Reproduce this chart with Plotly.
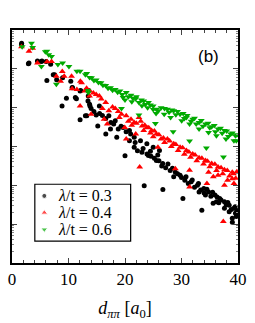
import plotly.graph_objects as go
import math

# lambda/t = 0.3 (black circles): distance d, log10 correlation
d_03 = [1.68, 1.7, 2.9, 3.0, 4.5, 5.16, 5.3, 6.05, 6.84, 6.17, 7.3, 7.56, 7.9, 8.96, 8.86, 9.63, 10.4, 10.64, 10.7,
        11.21, 11.4, 12.05, 12.15, 12.05, 12.99, 13.45, 13.73, 13.56, 13.5, 13.8, 15.46, 13.23, 14.9, 17.14, 18.27,
        19.66, 20.79, 21.63, 22.74, 23.87, 24.99, 26.1, 15.18, 16.6, 18.54, 20.79, 21.63, 24.15, 25.55, 26.67, 20.0,
        17.43, 23.4, 26.7, 28.91, 29.75, 28.62, 30.59, 31.71, 32.82, 33.95, 34.79, 35.92, 36.76, 37.6, 38.44, 39.28,
        39.55, 33.11, 34.24, 36.18, 37.6, 38.44, 30.25, 33.6, 35.6, 39.8, 39.0, 38.99,
        22.2, 23.0, 23.9, 24.6, 25.2, 26.0, 26.5, 27.2, 27.6, 28.0, 28.4, 29.3, 30.0, 30.8, 31.2, 31.9, 32.3, 33.0,
        33.4, 34.0, 34.5, 35.2, 35.5, 36.3, 36.6, 37.0, 37.9, 38.2, 38.8, 39.5, 39.8, 39.7,
        14.0, 14.5, 15.5, 16.0, 16.6, 17.5, 18.0, 18.8, 19.3, 20.2, 21.0, 21.8, 23.2, 24.5, 25.8]
c_03 = [-0.38, -0.34, -0.87, -0.85, -0.80, -0.81, -0.80, -0.81, -0.88, -1.30, -1.15, -1.15, -1.28, -1.23, -1.96,
        -1.76, -1.32, -1.49, -1.48, -1.74, -1.77, -1.57, -1.56, -2.31, -2.21, -1.83, -1.91, -1.56, -1.70, -1.96,
        -1.96, -2.21, -2.19, -2.21, -2.34, -2.51, -2.59, -2.76, -2.85, -2.93, -3.02, -3.10, -2.47, -2.68, -2.76,
        -2.85, -3.02, -3.23, -3.36, -3.44, -3.24, -2.55, -4.01, -4.11, -3.66, -3.74, -3.78, -3.87, -3.91, -4.00,
        -4.08, -4.17, -4.25, -4.34, -4.42, -4.51, -4.59, -4.72, -4.17, -4.25, -4.42, -4.59, -4.68, -4.34, -4.64,
        -4.46, -4.72, -4.95, -4.85,
        -3.11, -3.15, -3.19, -3.25, -3.30, -3.37, -3.50, -3.55, -3.45, -3.62, -3.56, -3.70, -3.80, -3.78, -3.95,
        -3.86, -4.05, -3.95, -4.12, -4.20, -4.10, -4.28, -4.18, -4.30, -4.45, -4.38, -4.50, -4.44, -4.62, -4.55,
        -4.65, -4.80,
        -2.02, -2.10, -2.15, -2.20, -2.28, -2.38, -2.42, -2.55, -2.48, -2.62, -2.68, -2.90, -3.05, -3.12, -3.22]

# lambda/t = 0.4 (red up-triangles)
d_04 = [1.68, 3.0, 3.65, 4.5, 6.2, 7.0, 7.85, 8.6, 8.9, 9.24, 10.54, 10.64, 11.48, 12.1, 12.32, 12.05, 12.89,
        13.73, 14.0, 13.78, 14.9, 15.46, 16.59, 17.14, 18.27, 19.38, 20.22, 21.06, 21.63, 22.47, 23.03, 23.87,
        24.71, 25.55, 26.39, 16.86, 19.95, 21.9, 23.31, 25.83, 22.6, 16.3, 20.22,
        27.51, 28.62, 29.75, 30.87, 31.98, 33.11, 34.24, 35.34, 36.47, 37.6, 38.99, 28.91, 31.43, 34.79, 36.47,
        38.15, 39.28, 31.43, 34.5, 37.4, 35.63, 37.6, 38.99,
        22.0, 22.8, 23.5, 24.2, 24.5, 25.2, 25.0, 26.0, 26.8, 27.0, 27.9, 28.2, 29.0, 29.4, 30.2, 30.5, 31.3, 31.6,
        32.4, 32.7, 33.6, 33.9, 34.6, 35.0, 35.9, 36.2, 37.0, 37.3, 38.1, 38.5, 39.2, 39.6, 39.8,
        17.8, 18.8, 19.0, 20.6, 21.2, 15.8, 16.0, 14.4, 13.2]
c_04 = [-0.43, -0.55, -0.47, -0.85, -0.82, -0.81, -1.19, -1.32, -1.07, -1.19, -1.19, -1.51, -1.53, -1.32, -1.36,
        -1.96, -1.57, -1.70, -2.17, -1.57, -1.66, -1.70, -1.87, -2.08, -2.02, -2.17, -2.21, -2.30, -2.38, -2.25,
        -2.47, -2.51, -2.59, -2.68, -2.81, -2.42, -2.51, -2.68, -2.59, -3.02, -3.53, -2.30, -2.81,
        -2.81, -2.93, -3.02, -3.10, -3.19, -3.29, -3.36, -3.44, -3.53, -3.60, -3.66, -3.57, -3.61, -3.66, -3.74,
        -3.87, -3.95, -4.04, -3.95, -4.93, -3.78, -4.00, -3.83,
        -2.40, -2.35, -2.45, -2.52, -2.65, -2.60, -2.75, -2.70, -2.78, -2.90, -2.86, -3.00, -2.95, -3.10, -3.03,
        -3.20, -3.14, -3.28, -3.22, -3.37, -3.30, -3.45, -3.38, -3.52, -3.46, -3.62, -3.55, -3.70, -3.62, -3.76,
        -3.70, -3.82, -3.65,
        -1.98, -2.10, -2.25, -2.35, -2.45, -1.78, -2.02, -1.62, -1.50]

# lambda/t = 0.6 (green down-triangles)
d_06 = [1.8, 3.45, 3.65, 5.9, 6.17, 6.5, 7.0, 5.2, 8.12, 8.96, 10.08, 7.85, 11.48, 12.05, 12.99, 13.73, 13.45,
        13.23, 14.07, 14.9, 15.75, 16.59, 17.43, 18.27, 19.11, 19.66, 20.22, 21.06, 21.9, 22.47, 23.31, 24.15,
        24.99, 25.55, 26.39, 13.5, 19.38, 22.47, 25.38,
        27.51, 28.62, 29.75, 30.87, 31.98, 33.11, 34.24, 35.34, 36.47, 37.6, 38.71, 39.55,
        26.94, 28.07, 30.03, 31.43, 33.11, 34.79, 36.18, 37.87, 39.28,
        28.52, 31.43, 34.4, 37.43,
        14.5, 15.3, 16.1, 17.0, 17.8, 18.7, 19.5, 20.6, 21.4, 22.0, 22.9, 23.6, 24.5, 25.0, 25.9, 20.0, 21.2, 23.0,
        24.0, 25.5,
        27.0, 27.8, 28.3, 29.0, 29.3, 30.3, 30.5, 31.0, 31.7, 32.3, 32.6, 33.5, 33.8, 34.7, 35.0, 35.8, 36.0, 36.9,
        37.2, 38.0, 38.3, 39.0, 39.8, 39.7]
c_06 = [-0.43, -0.34, -0.45, -0.56, -0.55, -0.64, -0.68, -0.94, -0.89, -0.85, -0.94, -1.40, -1.06, -1.06, -1.15,
        -1.22, -1.56, -1.12, -1.23, -1.29, -1.36, -1.43, -1.49, -1.53, -1.57, -1.74, -1.61, -1.68, -1.77, -1.87,
        -1.83, -1.87, -1.96, -2.04, -2.00, -1.61, -2.02, -2.19, -2.41,
        -2.04, -2.08, -2.17, -2.25, -2.30, -2.38, -2.42, -2.49, -2.55, -2.59, -2.68, -2.72,
        -2.17, -2.25, -2.34, -2.42, -2.55, -2.64, -2.72, -2.81, -2.85,
        -2.62, -2.86, -3.04, -3.27,
        -1.30, -1.35, -1.42, -1.50, -1.55, -1.60, -1.66, -1.72, -1.76, -1.72, -1.80, -1.92, -1.93, -2.05, -2.08,
        -1.80, -1.85, -1.95, -2.00, -2.15,
        -2.02, -2.12, -2.06, -2.18, -2.10, -2.15, -2.28, -2.20, -2.35, -2.27, -2.42, -2.33, -2.48, -2.40, -2.52,
        -2.46, -2.62, -2.53, -2.66, -2.60, -2.74, -2.65, -2.70, -2.85]

x_ticks = [0, 10, 20, 30, 40]
labels = ["<i>λ</i>/t = 0.3", "<i>λ</i>/t = 0.4", "<i>λ</i>/t = 0.6"]
colors = ["black", "#ff0000", "#00aa00"]
symbols = ["circle", "triangle-up", "triangle-down"]
sizes = [5, 6, 6]
series = [(d_03, c_03), (d_04, c_04), (d_06, c_06)]

fig = go.Figure()
for (xs, ys), lab, col, sym, sz in zip(series, labels, colors, symbols, sizes):
    fig.add_trace(go.Scatter(x=xs, y=ys, mode="markers", name=lab, showlegend=False,
                             marker=dict(symbol=sym, size=sz, color=col)))

# custom legend (box, markers on an overlay axis in plot-fraction units, text)
leg_rows = [0.288, 0.216, 0.144]
fig.add_shape(type="rect", xref="x domain", yref="y domain", x0=0.101, x1=0.525, y0=0.094, y1=0.338,
              line=dict(color="black", width=1.2), fillcolor="white", layer="below")
fig.add_trace(go.Scatter(x=[0.143] * 3, y=leg_rows, xaxis="x2", yaxis="y2", mode="markers",
                         showlegend=False, hoverinfo="skip",
                         marker=dict(symbol=symbols, size=[5, 6, 6], color=colors)))
for yy, lab in zip(leg_rows, labels):
    fig.add_annotation(text=lab, xref="x domain", yref="y domain", x=0.195, y=yy,
                       xanchor="left", yanchor="middle", showarrow=False, height=15,
                       font=dict(family="Liberation Serif", size=16, color="black"))

minor_y = [k + math.log10(m) for k in range(-6, 0) for m in range(2, 10)]

fig.update_layout(
    width=255, height=323,
    margin=dict(l=8, r=9, t=30, b=58),
    paper_bgcolor="white", plot_bgcolor="white",
    font=dict(family="Liberation Serif", color="black", size=17),
    showlegend=False,
    xaxis=dict(range=[0, 40], tickvals=x_ticks, ticktext=[str(v) for v in x_ticks],
               ticks="inside", ticklen=5, tickwidth=1, mirror="allticks",
               showline=True, linecolor="black", linewidth=1.5, showgrid=False, zeroline=False,
               ticklabeloverflow="allow",
               minor=dict(dtick=2, ticks="inside", ticklen=3, tickwidth=1, showgrid=False),
               title=dict(text="<i>d</i><sub><i>ππ</i></sub> [<i>a</i><sub>0</sub>]",
                          font=dict(size=18, family="Liberation Serif"), standoff=13),
               tickfont=dict(size=17, family="Liberation Serif")),
    yaxis=dict(range=[-6, 0], dtick=1, showticklabels=False,
               ticks="inside", ticklen=5, tickwidth=1, mirror="allticks",
               showline=True, linecolor="black", linewidth=1.5, showgrid=False, zeroline=False,
               minor=dict(tickvals=minor_y, ticks="inside", ticklen=2, tickwidth=0.5,
                          tickcolor="#888888", showgrid=False)),
    xaxis2=dict(overlaying="x", range=[0, 1], visible=False, fixedrange=True),
    yaxis2=dict(overlaying="y", range=[0, 1], visible=False, fixedrange=True),
    annotations=list(fig.layout.annotations) + [
        dict(text="(b)", x=0.87, y=0.885, xref="paper", yref="paper",
             xanchor="center", yanchor="middle", showarrow=False,
             font=dict(family="Liberation Sans", size=17, color="black"))],
)

fig.write_html("out.html", config={"displayModeBar": False},
               post_script="document.body.style.margin='0';")
